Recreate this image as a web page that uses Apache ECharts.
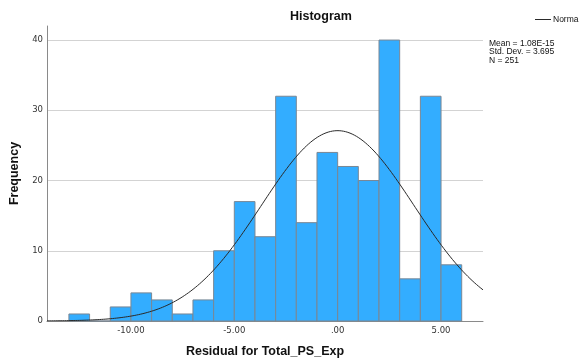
<!DOCTYPE html>
<html>
<head>
<meta charset="utf-8">
<script src="https://cdn.jsdelivr.net/npm/echarts@6/dist/echarts.min.js"></script>
<style>
  html, body { margin: 0; padding: 0; background: #fff; }
  #chart { width: 579px; height: 363px; }
</style>
</head>
<body>
<div id="chart"></div>
<script>
// Histogram of residuals: bins of width 1, lower edges listed here
const binStarts = [-13, -12, -11, -10, -9, -8, -7, -6, -5, -4, -3, -2, -1, 0, 1, 2, 3, 4, 5];
const binCounts = [1, 0, 2, 4, 3, 1, 3, 10, 17, 12, 32, 14, 24, 22, 20, 40, 6, 32, 8];
const binWidth = 1;

// Summary statistics shown beside the plot
const statMean = 1.08e-15;
const statSD = 3.695;
const statN = 251;
const statLines = ['Mean = 1.08E-15', 'Std. Dev. = 3.695', 'N = 251'];

// Axis ticks
const xTicks = [-10, -5, 0, 5];
const yTicks = [0, 10, 20, 30, 40];

const xMin = -14.06, xMax = 7.03;

// Fitted normal density scaled to counts (N * bin width)
const normalCurve = [];
for (let i = 0; i <= 200; i++) {
  const x = xMin + (xMax - xMin) * i / 200;
  const z = (x - statMean) / statSD;
  const y = statN * binWidth * Math.exp(-0.5 * z * z) / (statSD * Math.sqrt(2 * Math.PI));
  normalCurve.push([x, y]);
}

const bars = binStarts.map((s, i) => [s, s + binWidth, binCounts[i]]);

const FONT = '"DejaVu Sans", sans-serif';
const HEAD = '"Liberation Sans", Arial, sans-serif';
const SMALL = '"Liberation Sans", Arial, sans-serif';
const chart = echarts.init(document.getElementById('chart'), null, { renderer: 'canvas' });

chart.setOption({
  animation: false,
  backgroundColor: '#ffffff',
  title: {
    text: 'Histogram',
    left: 290,
    top: 10,
    padding: 0,
    textStyle: { fontFamily: HEAD, fontSize: 12.5, fontWeight: 'bold', color: '#111' }
  },
  legend: {
    data: ['Normal'],
    left: 530,
    top: 10,
    icon: 'rect',
    itemWidth: 16,
    itemHeight: 1,
    itemGap: 2,
    textStyle: { fontFamily: SMALL, fontSize: 8.5, color: '#111', padding: [0, 0, 0, -3] }
  },
  graphic: [{
    type: 'text',
    left: 489,
    top: 39,
    style: {
      text: statLines.join('\n'),
      font: '8.5px ' + SMALL,
      lineHeight: 8.5,
      fill: '#111'
    }
  }],
  grid: { left: 45, right: 96, top: 26, bottom: 41 },
  xAxis: {
    type: 'value',
    min: xMin,
    max: xMax,
    name: 'Residual for Total_PS_Exp',
    nameLocation: 'middle',
    nameGap: 24,
    nameTextStyle: { fontFamily: HEAD, fontSize: 12.5, fontWeight: 'bold', color: '#111' },
    axisLine: { show: true, onZero: false, lineStyle: { color: '#8a8a8a', width: 1 } },
    axisTick: { show: false },
    splitLine: { show: false },
    axisLabel: {
      customValues: xTicks,
      formatter: v => (v === 0 ? '.00' : v.toFixed(2).replace(/^(-?)0\./, '$1.')),
      fontFamily: FONT,
      fontSize: 8.5,
      color: '#333',
      margin: 5
    }
  },
  yAxis: {
    type: 'value',
    min: 0,
    max: 42,
    interval: 10,
    name: 'Frequency',
    nameLocation: 'middle',
    nameRotate: 90,
    nameGap: 26,
    nameTextStyle: { fontFamily: HEAD, fontSize: 12.5, fontWeight: 'bold', color: '#111' },
    axisLine: { show: true, onZero: false, lineStyle: { color: '#8a8a8a', width: 1 } },
    axisTick: { show: false },
    axisLabel: {
      customValues: yTicks,
      fontFamily: FONT,
      fontSize: 8.5,
      color: '#333',
      margin: 4
    },
    splitLine: {
      show: true,
      showMinLine: false,
      showMaxLine: false,
      lineStyle: { color: '#d3d3d3', width: 1 }
    }
  },
  series: [
    {
      type: 'custom',
      name: 'Frequency',
      data: bars,
      encode: { x: [0, 1], y: 2 },
      renderItem: function (params, api) {
        const p0 = api.coord([api.value(0), api.value(2)]);
        const p1 = api.coord([api.value(1), 0]);
        return {
          type: 'rect',
          shape: { x: p0[0], y: p0[1], width: p1[0] - p0[0], height: p1[1] - p0[1] },
          style: { fill: '#33adff', stroke: '#7a8794', lineWidth: 1 }
        };
      },
      z: 2
    },
    {
      type: 'line',
      name: 'Normal',
      data: normalCurve,
      showSymbol: false,
      smooth: false,
      lineStyle: { color: '#2a2a2a', width: 1 },
      itemStyle: { color: '#2a2a2a' },
      z: 3
    }
  ]
});
</script>
</body>
</html>
